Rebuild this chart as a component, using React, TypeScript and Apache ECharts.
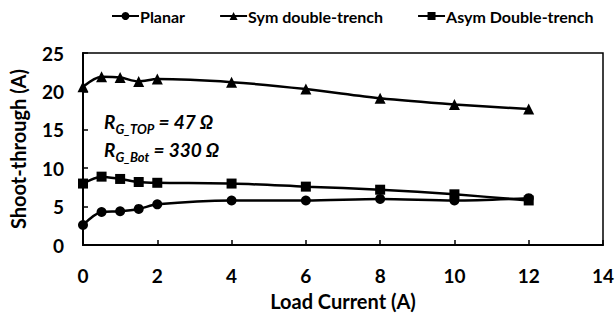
import React, { useEffect, useRef } from "react";
import * as echarts from "echarts";

// Load current (A)
const loadCurrent = [0, 0.5, 1, 1.5, 2, 4, 6, 8, 10, 12];
// Shoot-through current (A) per device structure
const planar = [2.6, 4.3, 4.4, 4.7, 5.3, 5.8, 5.8, 6.0, 5.8, 6.1];
const symDoubleTrench = [20.6, 21.9, 21.8, 21.3, 21.6, 21.2, 20.3, 19.1, 18.3, 17.7];
const asymDoubleTrench = [8.0, 8.9, 8.6, 8.2, 8.1, 8.0, 7.6, 7.2, 6.6, 5.8];

const xTicks = [0, 2, 4, 6, 8, 10, 12, 14];
const yTicks = [0, 5, 10, 15, 20, 25];

const seriesNames = ["Planar", "Sym double-trench", "Asym Double-trench"];
const FONT = "Lato, 'Open Sans', sans-serif";

const pairs = (ys: number[]) => loadCurrent.map((x, i) => [x, ys[i]]);

export default function App() {
  const ref = useRef<HTMLDivElement>(null);

  useEffect(() => {
    if (!ref.current) return;
    const chart = echarts.init(ref.current, undefined, { renderer: "svg" });

    const lineSeries = (name: string, ys: number[], symbol: string, size: number) => ({
      name,
      type: "line",
      data: pairs(ys),
      smooth: 0.3,
      symbol,
      symbolSize: size,
      lineStyle: { color: "#000", width: 2.5 },
      itemStyle: { color: "#000" },
      z: 3,
    });

    chart.setOption({
      animation: false,
      backgroundColor: "#fff",
      textStyle: { fontFamily: FONT },
      legend: {
        top: 8,
        left: 111,
        width: 505,
        padding: 0,
        itemGap: 34,
        itemWidth: 27,
        itemHeight: 10,
        textStyle: { fontFamily: FONT, fontWeight: "bold", fontSize: 16, color: "#000", padding: [0, 0, 0, -4] },
        data: seriesNames,
      },
      grid: {
        left: 83,
        right: 12,
        top: 53,
        bottom: 75,
        outerBoundsMode: "none",
        containLabel: false,
        show: true,
        borderColor: "#000",
        borderWidth: 1.5,
      },
      xAxis: {
        type: "value",
        min: 0,
        max: 14,
        interval: 2,
        name: "Load Current (A)",
        nameLocation: "middle",
        nameGap: 46,
        nameTextStyle: { fontFamily: FONT, fontWeight: "bold", fontSize: 20, color: "#000" },
        axisLine: { lineStyle: { color: "#000", width: 2 } },
        axisTick: { inside: true, length: 5, lineStyle: { color: "#000", width: 1.5 } },
        axisLabel: {
          fontFamily: FONT,
          fontWeight: "bold",
          fontSize: 19,
          color: "#000",
          margin: 21,
          formatter: (v: number) => (xTicks.includes(v) ? String(v) : ""),
        },
        splitLine: { show: false },
      },
      yAxis: {
        type: "value",
        min: 0,
        max: 25,
        interval: 5,
        name: "Shoot-through (A)",
        nameLocation: "middle",
        nameGap: 55,
        nameTextStyle: { fontFamily: FONT, fontWeight: "bold", fontSize: 20, color: "#000" },
        axisLine: { lineStyle: { color: "#000", width: 2 } },
        axisTick: { inside: true, length: 5, lineStyle: { color: "#000", width: 1.5 } },
        axisLabel: {
          fontFamily: FONT,
          fontWeight: "bold",
          fontSize: 19,
          color: "#000",
          margin: 19,
          formatter: (v: number) => (yTicks.includes(v) ? String(v) : ""),
        },
        splitLine: { show: false },
      },
      graphic: [
        {
          type: "text",
          left: 104,
          top: 112,
          style: {
            text: "{r|R}{s|G_TOP}{r| = 47 Ω}\n{r|R}{s|G_Bot}{r| = 330 Ω}",
            fill: "#000",
            rich: {
              r: { fontFamily: FONT, fontStyle: "italic", fontWeight: "bold", fontSize: 19, fill: "#000", lineHeight: 28 },
              s: {
                fontFamily: FONT,
                fontStyle: "italic",
                fontWeight: "bold",
                fontSize: 13,
                fill: "#000",
                verticalAlign: "bottom",
                padding: [9, 0, 0, 0],
                lineHeight: 28,
              },
            },
          },
        },
      ],
      series: [
        lineSeries(seriesNames[0], planar, "circle", 10),
        lineSeries(seriesNames[1], symDoubleTrench, "triangle", 11),
        lineSeries(seriesNames[2], asymDoubleTrench, "rect", 10),
      ],
    });

    return () => chart.dispose();
  }, []);

  return (
    <div
      ref={ref}
      style={{ position: "fixed", left: 0, top: 0, width: 615, height: 320, background: "#fff" }}
    />
  );
}
